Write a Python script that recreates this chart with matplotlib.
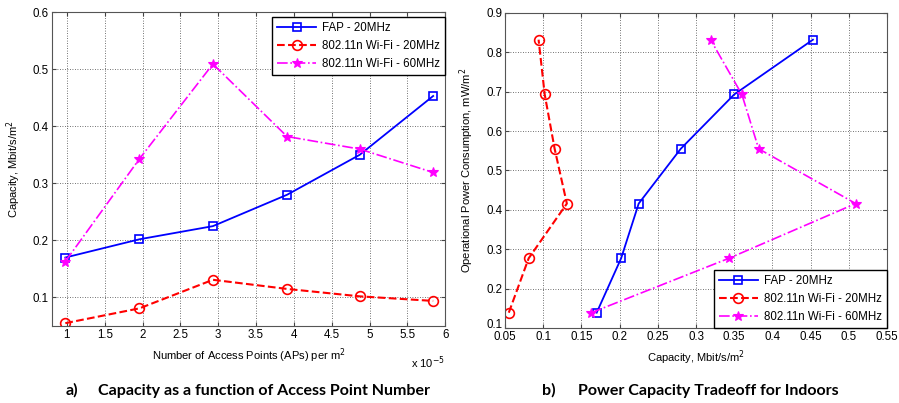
import matplotlib.pyplot as plt
from matplotlib.transforms import ScaledTranslation

# Данные (читаны с исходного рисунка)
ap_density = [0.98, 1.96, 2.93, 3.91, 4.87, 5.84]  # x 1e-5 APs per m^2
power = [0.139, 0.277, 0.416, 0.555, 0.693, 0.832]  # mW/m^2
cap_fap = [0.170, 0.202, 0.225, 0.280, 0.350, 0.453]
cap_wifi20 = [0.055, 0.081, 0.131, 0.115, 0.102, 0.094]
cap_wifi60 = [0.163, 0.343, 0.509, 0.382, 0.360, 0.319]

labels = ['FAP - 20MHz', '802.11n Wi-Fi - 20MHz', '802.11n Wi-Fi - 60MHz']
xticks_a = ['1', '1.5', '2', '2.5', '3', '3.5', '4', '4.5', '5', '5.5', '6']
xticks_b = ['0.05', '0.1', '0.15', '0.2', '0.25', '0.3', '0.35', '0.4',
            '0.45', '0.5', '0.55']

plt.rcParams['font.family'] = ['Liberation Sans', 'DejaVu Sans']
plt.rcParams['font.size'] = 8

fig = plt.figure(figsize=(8.99, 4.03), dpi=100)
ax1 = fig.add_axes([0.0575, 0.191, 0.4378, 0.779])
ax2 = fig.add_axes([0.5617, 0.186, 0.425, 0.782])

styles = [
    dict(color='#0000ff', linestyle='-', marker='s', markersize=5.5, lw=1.3,
         markerfacecolor='none', markeredgewidth=1.2),
    dict(color='#ff0000', linestyle='--', marker='o', markersize=7, lw=1.5,
         markerfacecolor='none', markeredgewidth=1.2),
    dict(color='#ff00ff', linestyle='-.', marker='*', markersize=7.5, lw=1.2,
         markeredgewidth=0.8),
]
caps = [cap_fap, cap_wifi20, cap_wifi60]
leg_kw = dict(fancybox=False, edgecolor='black', framealpha=1, fontsize=8.3,
              handlelength=3.4, borderpad=0.45, labelspacing=0.5,
              borderaxespad=0, handletextpad=0.5)

# a) емкость от числа точек доступа
for c, st, lb in zip(caps, styles, labels):
    ax1.plot(ap_density, c, label=lb, **st)
ax1.set_xlim(0.8, 6)
ax1.set_ylim(0.05, 0.6)
ax1.set_xticks([1, 1.5, 2, 2.5, 3, 3.5, 4, 4.5, 5, 5.5, 6])
ax1.set_xticklabels(xticks_a)
ax1.set_yticks([0.1, 0.2, 0.3, 0.4, 0.5, 0.6])
ax1.set_xlabel('Number of Access Points (APs) per m$^2$', labelpad=4)
ax1.set_ylabel('Capacity, Mbit/s/m$^2$', labelpad=7)
ax1.text(1.0, -0.09, r'x 10$^{-5}$', transform=ax1.transAxes, ha='right', va='top',
         fontsize=8)
ax1.legend(loc='upper right', bbox_to_anchor=(1.0, 0.984), **leg_kw)

# b) мощность против емкости
for c, st, lb in zip(caps, styles, labels):
    ax2.plot(c, power, label=lb, **st)
ax2.set_xlim(0.05, 0.55)
ax2.set_ylim(0.1, 0.9)
ax2.set_xticks([0.05, 0.1, 0.15, 0.2, 0.25, 0.3, 0.35, 0.4, 0.45, 0.5, 0.55])
ax2.set_xticklabels(xticks_b)
ax2.set_yticks([0.1, 0.2, 0.3, 0.4, 0.5, 0.6, 0.7, 0.8, 0.9])
ax2.set_xlabel('Capacity, Mbit/s/m$^2$', labelpad=4)
ax2.set_ylabel('Operational Power Consumption, mW/m$^2$', labelpad=7)
ax2.legend(loc='lower right', bbox_to_anchor=(1.0, 0.0), **leg_kw)

for ax in (ax1, ax2):
    ax.grid(True, color='#444444', linestyle=(0, (1, 2)), linewidth=0.6)
    ax.tick_params(direction='in', length=3, top=True, right=True, pad=2,
                   labelsize=8.3, color='#444444')
    for sp in ax.spines.values():
        sp.set_color('#555555')
        sp.set_linewidth(0.8)

# слегка приподнять нижнюю метку "0.1", чтобы не налезала на "0.05"
fig.canvas.draw()
lbl = ax2.get_yticklabels()[0]
lbl.set_transform(lbl.get_transform() + ScaledTranslation(0, 3 / 72, fig.dpi_scale_trans))

# подписи под графиками
cap_kw = dict(fontsize=11.5, fontweight='bold', family='Lato')
fig.text(0.0725, 0.02, 'a)', **cap_kw)
fig.text(0.109, 0.02, 'Capacity as a function of Access Point Number', **cap_kw)
fig.text(0.6025, 0.02, 'b)', **cap_kw)
fig.text(0.643, 0.02, 'Power Capacity Tradeoff for Indoors', **cap_kw)

plt.savefig('out.png', dpi=100)
